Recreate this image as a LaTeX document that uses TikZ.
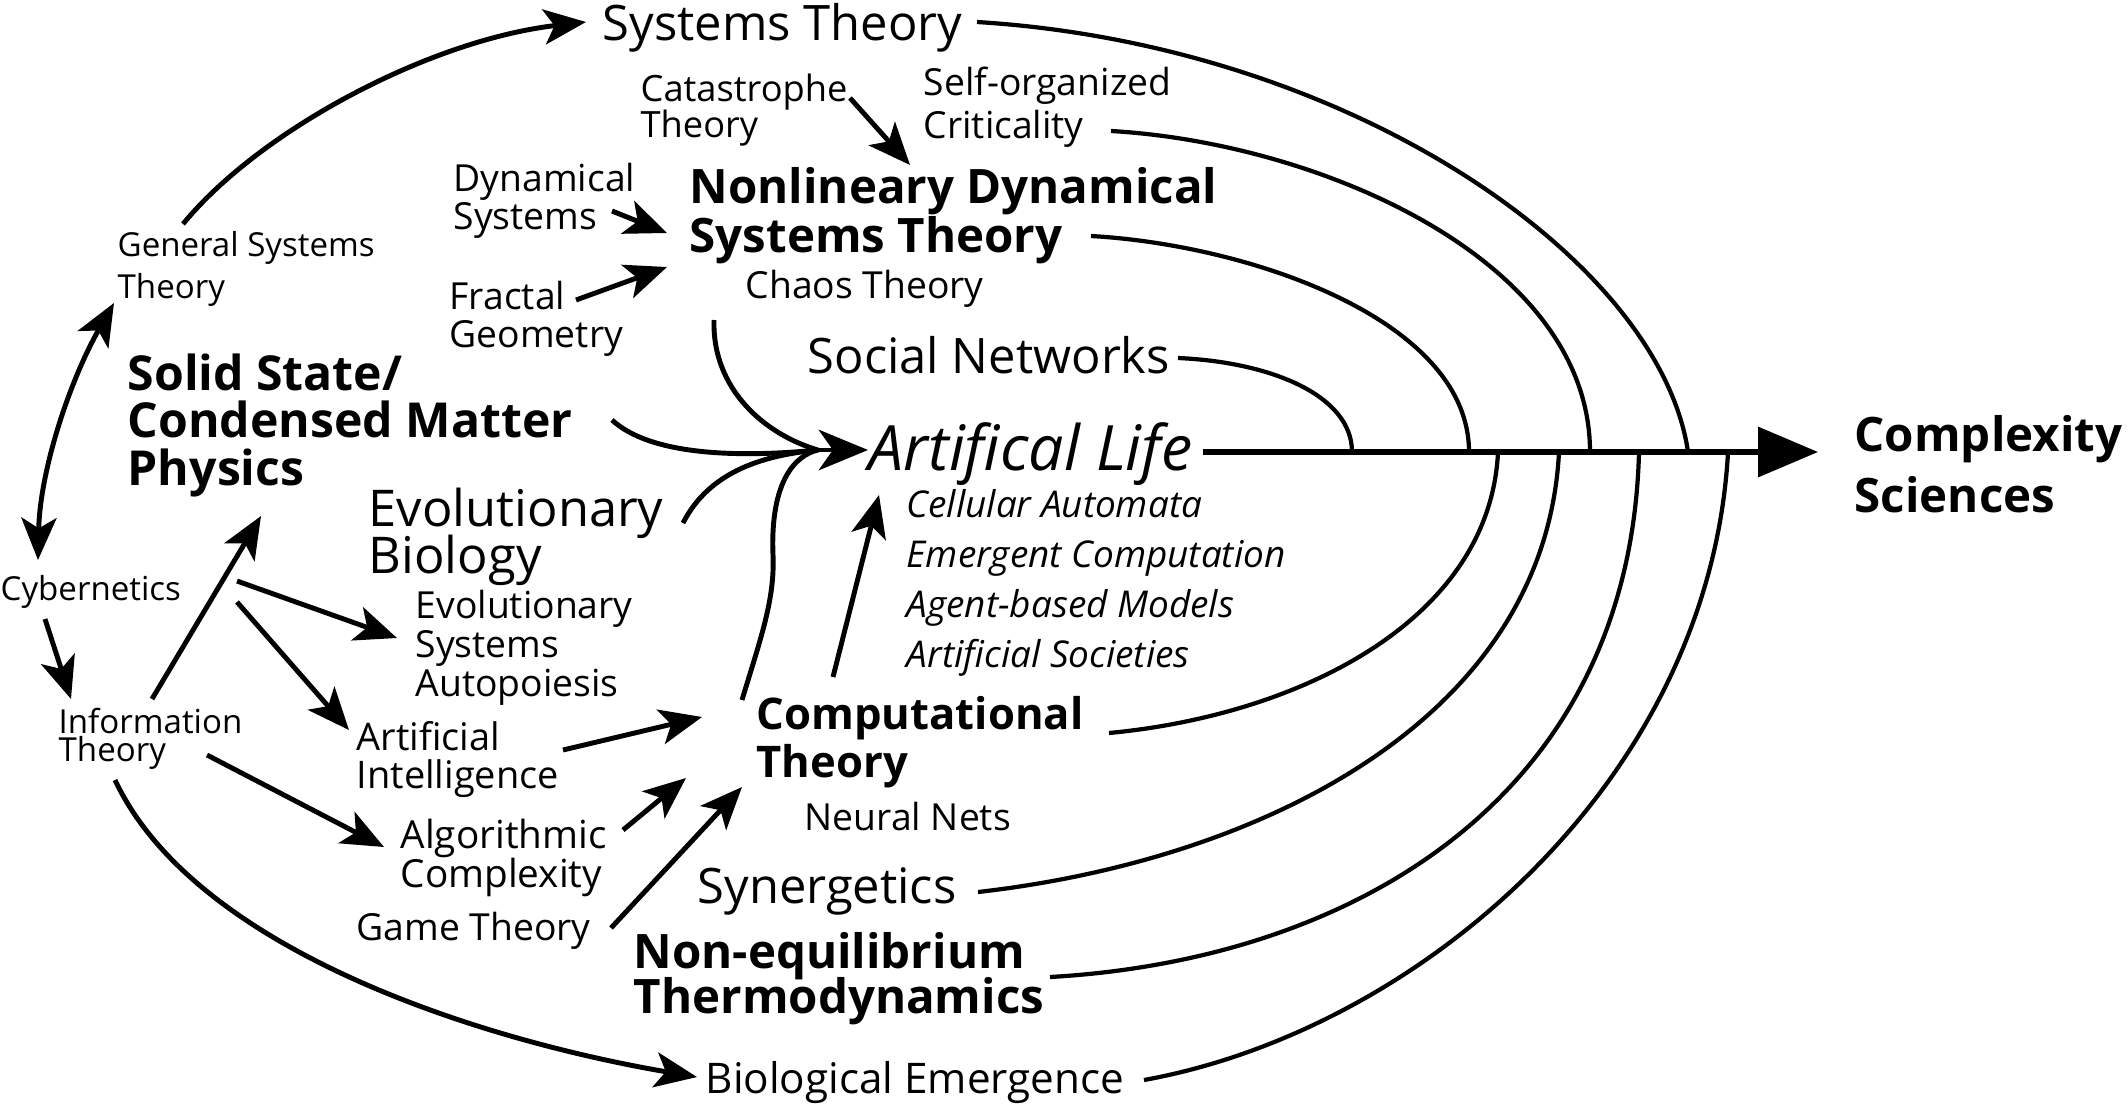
\documentclass[tikz,border=0pt]{standalone}
\usepackage{fontspec}
\setmainfont{Open Sans}
\usetikzlibrary{arrows.meta,calc}
\lineskiplimit=-50pt
\begin{document}
\begin{tikzpicture}[x=0.01cm, y=-0.01cm, every node/.style={anchor=base west, align=left},
  >={Stealth[length=12pt,width=10pt,inset=3pt]},
  big/.style={font=\fontsize{13.9}{13.1}\selectfont},
  med/.style={font=\fontsize{10.6}{10.8}\selectfont},
  sml/.style={font=\fontsize{9.4}{11.7}\selectfont},
  hvy/.style={font=\bfseries\fontsize{13.5}{13.4}\selectfont},
  ital/.style={font=\itshape\fontsize{10.5}{14.2}\selectfont},
  arr/.style={line width=1.4pt, ->},
  arc/.style={line width=1.2pt}]
\tikzstyle{every node}+=[inner sep=0pt]
\useasboundingbox (0,0) rectangle (2128,1106);
\node[big] (st) at (602,40) {Systems Theory};
\node[med, font=\fontsize{10.3}{10}\selectfont] (cat) at (640,137) {Catastrophe\\Theory};
\node[med] (soc) at (923,138) {Self-organized\\[1.2pt]Criticality};
\node[med] (dyn) at (453,229) {Dynamical\\Systems};
\node[hvy] (ndst) at (689,252) {Nonlineary Dynamical\\[0.5pt]Systems Theory};
\node[med] (chaos) at (745,298) {Chaos Theory};
\node[sml] (gst) at (117,298) {General Systems\\Theory};
\node[med] (frac) at (449,347) {Fractal\\Geometry};
\node[big] (sn) at (807,373) {Social Networks};
\node[hvy, font=\bfseries\fontsize{13.7}{13.4}\selectfont] (ssp) at (127,485) {Solid State/\\Condensed Matter\\Physics};
\node[font=\itshape\fontsize{17.8}{20}\selectfont] (alife) at (868,470) {Artifical Life};
\node[ital] (alist) at (906,667) {Cellular Automata\\Emergent Computation\\Agent-based Models\\Artificial Societies};
\node[hvy] (cs) at (1854,512) {Complexity\\[3.7pt]Sciences};
\node[big, font=\fontsize{14.4}{13.1}\selectfont] (evb) at (368,573) {Evolutionary\\Biology};
\node[sml] (cyb) at (0,600) {Cybernetics};
\node[med] (evs) at (415,696) {Evolutionary\\[0.2pt]Systems\\[0.2pt]Autopoiesis};
\node[sml] (info) at (58,761) {Information\\[-3.9pt]Theory};
\node[med, font=\fontsize{10.8}{10.8}\selectfont] (ai) at (356,788) {Artificial\\Intelligence};
\node[hvy, font=\bfseries\fontsize{12.4}{13.4}\selectfont] (comp) at (756,777) {Computational\\Theory};
\node[med] (nn) at (804,830) {Neural Nets};
\node[med, font=\fontsize{11}{11}\selectfont] (alg) at (400,887) {Algorithmic\\Complexity};
\node[big] (syn) at (697,903) {Synergetics};
\node[med] (game) at (356,940) {Game Theory};
\node[hvy] (neq) at (633,1013) {Non-equilibrium\\[-0.6pt]Thermodynamics};
\node[font=\fontsize{12}{14}\selectfont] (bio) at (705,1093) {Biological Emergence};
\draw [black, arr] ($(gst.base west)+(66,-74)$) .. controls +(77,-94) and +(-156,18) .. ($(st.base west)+(-16,-18)$);
\draw [black, line width=1.4pt, <->] ($(gst.base west)+(-3,5)$) .. controls +(-44,77) and +(2,-90) .. ($(cyb.base west)+(38,-40)$);
\draw [black, arr] ($(cyb.base west)+(45,19)$) -- ($(info.base west)+(13,-62)$);
\draw [black, arr] ($(info.base west)+(94,-62)$) -- ($(ssp.base west)+(134,31)$);
\draw [black, arr] ($(cyb.base west)+(237,-19)$) -- ($(evs.base west)+(-18,-58)$);
\draw [black, arr] ($(cyb.base west)+(237,2)$) -- ($(ai.base west)+(-7,-58)$);
\draw [black, arr] ($(info.base west)+(149,-6)$) -- ($(alg.base west)+(-16,-40)$);
\draw [black, arr] ($(info.base west)+(57,19)$) .. controls +(80,170) and +(-217,-37) .. ($(bio.base west)+(-8,-16)$);
\draw [black, arr] ($(ai.base west)+(207,-38)$) -- ($(comp.base west)+(-54,-60)$);
\draw [black, arr] ($(alg.base west)+(223,-57)$) -- ($(comp.base west)+(-70,1)$);
\draw [black, arr] ($(game.base west)+(255,-12)$) -- ($(comp.base west)+(-14,10)$);
\draw [black, arr] ($(comp.base west)+(77,-100)$) -- ($(alist.base west)+(-27,-172)$);
\draw [black, arr] ($(cat.base west)+(210,-39)$) -- ($(ndst.base west)+(221,-87)$);
\draw [black, arr] ($(dyn.base west)+(159,-18)$) -- ($(ndst.base west)+(-22,-19)$);
\draw [black, arr] ($(frac.base west)+(127,-47)$) -- ($(ndst.base west)+(-22,15)$);
\coordinate (join) at ($(alife.base west)+(-50,-20)$);
\draw [black, line width=1.4pt] ($(chaos.base west)+(-31,22)$) .. controls +(-2,70) and +(-52,-15) .. (join);
\draw [black, line width=1.4pt] ($(ssp.base west)+(485,-65)$) .. controls +(38,35) and +(-82,8) .. (join);
\draw [black, line width=1.4pt] ($(evb.base west)+(315,-50)$) .. controls +(27,-53) and +(-52,5) .. (join);
\draw [black, line width=1.4pt] ($(comp.base west)+(-14,-77)$) .. controls +(18,-60) and +(2,45) .. ($(alife.base west)+(-95,85)$) .. controls +(-3,-75) and +(-22,5) .. (join);
\draw [black, line width=1.4pt, -{Stealth[length=14pt,width=11.5pt,inset=4pt]}] (join) -- ($(alife.base west)+(0,-20)$);
\draw [black, line width=1.5pt, -{Triangle[length=17pt,width=14pt]}] ($(alife.base west)+(335,-18)$) -- ($(cs.base west)+(-36,-60)$);
\draw [black, arc] ($(sn.base west)+(371,-15)$) .. controls +(92,4) and +(0,-57) .. ($(cs.base west)+(-502,-60)$);
\draw [black, arc] ($(ndst.base west)+(402,-16)$) .. controls +(159,9) and +(0,-132) .. ($(cs.base west)+(-385,-60)$);
\draw [black, arc] ($(soc.base west)+(188,-7)$) .. controls +(209,12) and +(0,-192) .. ($(cs.base west)+(-264,-60)$);
\draw [black, arc] ($(st.base west)+(375,-18)$) .. controls +(373,23) and +(-28,-192) .. ($(cs.base west)+(-166,-60)$);
\draw [black, arc] ($(comp.base west)+(353,-44)$) .. controls +(191,-18) and +(-8,168) .. ($(cs.base west)+(-356,-60)$);
\draw [black, arc] ($(syn.base west)+(281,-11)$) .. controls +(282,-32) and +(-14,268) .. ($(cs.base west)+(-295,-60)$);
\draw [black, arc] ($(neq.base west)+(417,-36)$) .. controls +(300,-17) and +(-9,348) .. ($(cs.base west)+(-215,-60)$);
\draw [black, arc] ($(bio.base west)+(439,-13)$) .. controls +(276,-50) and +(-18,328) .. ($(cs.base west)+(-126,-60)$);
\end{tikzpicture}
\end{document}
